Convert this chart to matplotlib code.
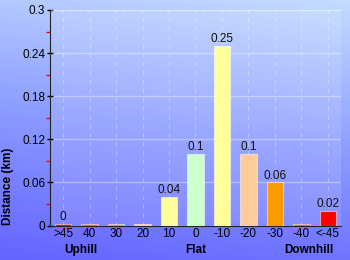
"""Gradient profile chart: distance by slope category."""

import numpy as np
import matplotlib

matplotlib.use("Agg")
import matplotlib.pyplot as plt
from matplotlib.colors import LinearSegmentedColormap

plt.rcParams["font.family"] = ["Liberation Sans", "DejaVu Sans"]

# Data
categories = [">45", "40", "30", "20", "10", "0", "-10", "-20", "-30", "-40", "<-45"]
distances = [0.002, 0.002, 0.002, 0.002, 0.04, 0.1, 0.25, 0.1, 0.06, 0.002, 0.02]
value_labels = ["0", "", "", "", "0.04", "0.1", "0.25", "0.1", "0.06", "", "0.02"]
bar_colors = [
    "#FF0000", "#FF6600", "#FF9900", "#FFCC99", "#FFFF99", "#CCFFCC",
    "#FFFF99", "#FFCC99", "#FF9900", "#FF6600", "#FF0000",
]
section_labels = ["Uphill", "Flat", "Downhill"]
section_pos = [0.67, 5.02, 9.27]
y_ticks = [0, 0.06, 0.12, 0.18, 0.24, 0.3]

fig = plt.figure(figsize=(3.5, 2.6), dpi=100)

# background gradient
bg = fig.add_axes([0, 0, 1, 1], zorder=-10)
grad_cmap = LinearSegmentedColormap.from_list("bg", ["#6464FF", "#8C9CFF", "#C4DCFF"])
yy = np.linspace(1, 0, 260)[:, None]
xx = np.linspace(0, 1, 350)[None, :]
bg.imshow(yy * 0.85 + xx * 0.15, cmap=grad_cmap, aspect="auto",
          extent=[0, 1, 0, 1], vmin=0, vmax=1)
bg.axis("off")

ax = fig.add_axes([50 / 350, 34.5 / 260, 291 / 350, 215.5 / 260])
ax.set_facecolor((1, 1, 1, 0.12))

x = np.arange(len(categories))
bars = ax.bar(x, distances, width=0.62, color=bar_colors,
              edgecolor=(1, 1, 1, 0.5), linewidth=0.8, zorder=3)
for xi, d, lab in zip(x, distances, value_labels):
    if lab:
        ax.text(xi, d + 0.001, lab, ha="center", va="bottom", fontsize=8.5,
                color="#111111", zorder=4)

ax.set_xlim(-0.5, len(categories) - 0.5)
ax.set_ylim(0, 0.3)
ax.set_yticks(y_ticks)
ax.set_yticklabels([f"{t:g}" for t in y_ticks], fontsize=8.5)
ax.set_yticks([0.03, 0.09, 0.15, 0.21, 0.27], minor=True)
ax.set_xticks(x)
ax.set_xticklabels(categories, fontsize=8.5)

ax.tick_params(axis="y", which="major", direction="inout", length=5, width=1, pad=1)
ax.tick_params(axis="y", which="minor", direction="out", length=3, width=1, color="red")
ax.tick_params(axis="x", length=0, pad=2)

ax.grid(axis="y", which="major", color="white", alpha=0.35, linewidth=1, zorder=1)
ax.grid(axis="x", color="white", alpha=0.3, linewidth=0.8, linestyle=(0, (4, 4)), zorder=1)
ax.axhline(0.3, color="white", alpha=0.35, linewidth=0.8, linestyle=(0, (4, 4)))

for side in ["top", "right"]:
    ax.spines[side].set_visible(False)
ax.spines["left"].set_color("#222222")
ax.spines["bottom"].set_color("#222222")

ax.set_ylabel("Distance (km)", fontsize=8.5, fontweight="bold")
ax.yaxis.set_label_coords(-0.124, 0.18)

for pos, lab in zip(section_pos, section_labels):
    ax.text(pos, -0.034, lab, ha="center", va="center", fontsize=8.5,
            fontweight="bold", transform=ax.transData, clip_on=False)

fig.savefig("out.png", dpi=100)
